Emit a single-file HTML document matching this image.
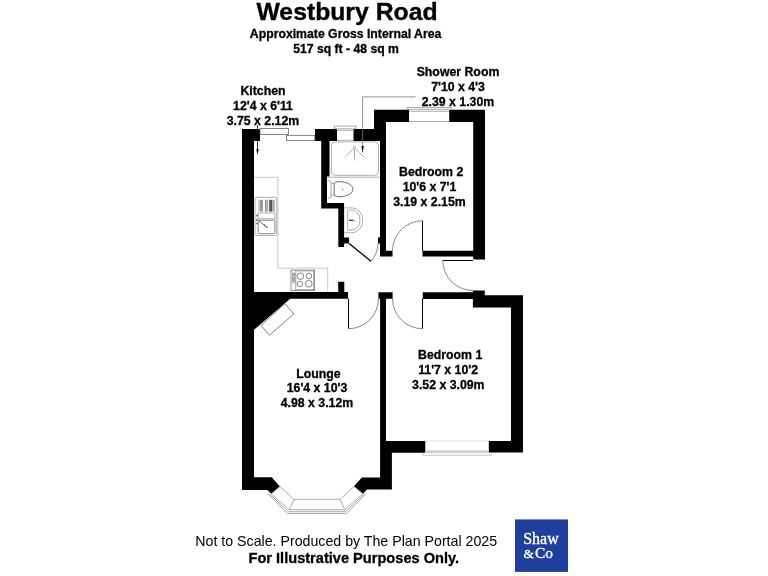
<!DOCTYPE html>
<html><head><meta charset="utf-8">
<style>
html,body{margin:0;padding:0;background:#fff;}
body{width:768px;height:576px;overflow:hidden;}
svg{display:block;will-change:transform;}
text{font-family:"Liberation Sans",sans-serif;font-weight:bold;fill:#000;}
</style></head>
<body>
<svg width="768" height="576" viewBox="0 0 768 576">
<!-- Titles -->
<text x="347" y="19.7" font-size="24.75" text-anchor="middle" stroke="#000" stroke-width="0.35">Westbury Road</text>
<text x="345.6" y="38" font-size="12.25" text-anchor="middle" stroke="#000" stroke-width="0.3">Approximate Gross Internal Area</text>
<text x="346" y="52.6" font-size="12.2" text-anchor="middle" stroke="#000" stroke-width="0.3">517 sq ft - 48 sq m</text>

<!-- Room labels -->
<g font-size="12.3" text-anchor="middle" stroke="#000" stroke-width="0.3">
<text x="263" y="94.9">Kitchen</text>
<text x="263" y="109.5">12'4 x 6'11</text>
<text x="263" y="124.5">3.75 x 2.12m</text>
<text x="458" y="75.9">Shower Room</text>
<text x="458" y="90.6">7'10 x 4'3</text>
<text x="458" y="105.6">2.39 x 1.30m</text>
<text x="431.2" y="175.8">Bedroom 2</text>
<text x="429.5" y="190.7">10'6 x 7'1</text>
<text x="429.5" y="205.5">3.19 x 2.15m</text>
<text x="318.5" y="377.6">Lounge</text>
<text x="317" y="391.9">16'4 x 10'3</text>
<text x="317" y="406.9">4.98 x 3.12m</text>
<text x="450.2" y="359.3">Bedroom 1</text>
<text x="448.1" y="373.9">11'7 x 10'2</text>
<text x="448.3" y="388.8">3.52 x 3.09m</text>
</g>

<!-- Walls -->
<g fill="#000">
<polygon points="242,129 260,129 260,141 254,141 254,292 338.2,292 338.2,281.8 344.3,281.8 344.3,292 348,292 348,298.7 290.2,298.7 254,329.75 254,477.3 271.7,477.3 279.9,486.4 271.3,493.8 267.4,489.9 242,489.9"/>
<polygon points="315,129 337,129 337,141 329.5,141 329.5,176.5 327,176.5 327,203 344.1,203 344.1,237.5 349.1,237.5 349.1,243.5 344.1,243.5 344.1,247 338.3,247 338.3,208.5 321.2,208.5 321.2,141 315,141"/>
<polygon points="353.5,129 374,129 374,109.7 409,109.7 409,121.9 386,121.9 386,250.8 392.5,250.8 392.5,256.5 380,256.5 380,243.5 378,243.5 378,237.5 380,237.5 380,141 353.5,141"/>
<polygon points="449.2,109.7 485,109.7 485,259.5 473.2,259.5 473.2,256.5 422.5,256.5 422.5,250.8 473.2,250.8 473.2,121.9 449.2,121.9"/>
<polygon points="422.8,292.3 472.9,292.3 472.9,290.5 484.8,290.5 484.8,295.2 523,295.2 523,452.6 488.8,452.6 488.8,441 511,441 511,307.4 472.9,307.4 472.9,298.9 422.8,298.9"/>
<polygon points="378.4,292.2 392.6,292.2 392.6,298.7 386,298.7 386,441 425.3,441 425.3,452.7 391.9,452.7 391.9,489.4 366.9,489.4 363.1,493.8 354,486.3 361.9,477.5 380.1,477.5 380.1,298.7 378.4,298.7"/>
</g>

<!-- thin lines -->
<g fill="none" stroke="#999" stroke-width="0.8">
<!-- kitchen window -->
<rect x="260" y="128.6" width="28.5" height="5.8" stroke="#666"/>
<rect x="286.5" y="135.3" width="28.3" height="5.3" stroke="#666"/>
<!-- shower window -->
<rect x="334.5" y="126.1" width="21.2" height="2.7"/>
<line x1="337" y1="130.3" x2="353.5" y2="130.3"/>
<line x1="337" y1="140.3" x2="353.5" y2="140.3"/>
<!-- bed2 window -->
<rect x="407.3" y="107.4" width="44" height="1.9"/>
<line x1="409" y1="111.3" x2="449.2" y2="111.3"/>
<line x1="409" y1="121.5" x2="449.2" y2="121.5"/>
<!-- bed1 window -->
<line x1="425.3" y1="440.9" x2="488.8" y2="440.9" stroke="#d8d8d8"/>
<rect x="425.3" y="450.2" width="63.5" height="3" fill="#d0d0d0" stroke="none"/>
<path d="M423.3,452.8 L423.3,455.3 L491.4,455.3 L491.4,452.8" stroke="#bbb"/>
<!-- kitchen counter -->
<polyline points="254,177.3 277.9,177.3 277.9,268.2 327.7,268.2 327.7,292" stroke="#bbb"/>
<!-- sink -->
<rect x="255" y="197.3" width="21.7" height="38.2" rx="1.2"/>
<rect x="258.1" y="213" width="16.8" height="5.8"/>
<rect x="258.1" y="220.2" width="16.8" height="13.5" rx="1.2" stroke="#666"/>
<!-- hob -->
<rect x="291" y="270.1" width="23.6" height="20.5" stroke="#777"/>
<rect x="295.8" y="270.9" width="18" height="18.9" stroke="#888"/>
<g stroke="#555" stroke-width="0.7">
<circle cx="300.4" cy="276.2" r="3.3"/>
<circle cx="308.9" cy="276" r="2.8"/>
<circle cx="299.9" cy="283.9" r="2.8"/>
<circle cx="308.7" cy="283.7" r="3.4"/>
<circle cx="293.5" cy="274" r="1.1"/>
<circle cx="293.5" cy="276.5" r="1.1"/>
<circle cx="293.5" cy="279" r="1.1"/>
<circle cx="293.5" cy="281.5" r="1.1"/>
</g>
<!-- shower tray -->
<rect x="331.3" y="141.9" width="47.2" height="33.4" rx="4"/>
<line x1="328" y1="177.2" x2="380" y2="177.2"/>
<!-- toilet -->
<path d="M328.2,180.5 L331,181.5 L331,197.2 L328.2,198.2" stroke="#888"/>
<line x1="331" y1="183.6" x2="334.5" y2="183.6"/>
<line x1="331" y1="195" x2="334.5" y2="195"/>
<path d="M334.2,184 C334.2,180.5 344,181.2 349.5,184.2 C354,187 354,191.5 349.5,194.3 C344,197.3 334.2,197.8 334.2,194.2 Z" stroke="#444"/>
<circle cx="342.5" cy="189.3" r="0.5" stroke="#777"/>
<!-- basin -->
<path d="M344.1,207.9 L352,207.9 A10.8,12.4 0 0 1 352,232.7 L344.1,232.7" />
<path d="M347.7,210.1 L352,210.1 A8,10 0 0 1 352,230.1 L347.7,230.1 Z"/>
<!-- fireplace -->
<polygon points="285,303.7 293.8,314.1 269.3,335.2 261,325.4" stroke="#666"/>
<!-- shower head -->
<circle cx="354.5" cy="147.5" r="1.3"/>
<line x1="354.5" y1="148.8" x2="354.5" y2="160.6"/>
<line x1="353.5" y1="148.5" x2="345.4" y2="156.9"/>
<line x1="355.5" y1="148.5" x2="364" y2="157"/>
</g>
<!-- drainer ribs -->
<g>
<rect x="258.2" y="199.8" width="1.6" height="11.8" fill="#ccc"/>
<rect x="259.8" y="199.8" width="3.2" height="11.8" fill="#999"/>
<rect x="265" y="199.8" width="1.4" height="11.8" fill="#888"/>
<rect x="266.4" y="199.8" width="1.8" height="11.8" fill="#aaa"/>
<rect x="269.2" y="199.8" width="3" height="11.8" fill="#555"/>
<rect x="272.2" y="199.8" width="2.6" height="11.8" fill="#aaa"/>
<circle cx="257" cy="215.4" r="0.9" fill="#666"/>
<circle cx="257" cy="220" r="0.9" fill="#666"/>
<circle cx="257" cy="223.4" r="0.9" fill="#666"/>
<line x1="258.5" y1="220.5" x2="267" y2="227.3" stroke="#444" stroke-width="0.8"/>
<circle cx="264.5" cy="225.3" r="0.7" fill="#333"/>
<circle cx="267" cy="227.3" r="0.7" fill="#333"/>
<rect x="349" y="219.6" width="4" height="1.4" fill="#444"/>
<circle cx="354" cy="220.3" r="0.6" fill="#555"/>
</g>
<!-- bay window -->
<g fill="none" stroke="#888" stroke-width="0.7">
<polygon points="279.9,486.4 293.8,499.4 289.3,509.8 271.3,493.8"/>
<polygon points="354.1,486.4 340.2,499.4 344.7,509.8 362.7,493.8"/>
<line x1="293.8" y1="499.4" x2="340.2" y2="499.4"/>
<line x1="289.3" y1="509.8" x2="344.7" y2="509.8"/>
<polyline points="269.6,494 288.3,511.7 345.7,511.7 364.4,494"/>
<polyline points="267.9,493.6 287.3,513.5 346.7,513.5 366.1,493.6"/>
</g>
<!-- doors -->
<g fill="none" stroke="#000" stroke-width="0.9">
<line x1="349.1" y1="243.5" x2="371" y2="261.3" stroke-width="1.3"/>
<path d="M371,261.3 A28.2,28.2 0 0 0 378,243.5" stroke="#555" stroke-width="0.7"/>
<line x1="422.5" y1="250.8" x2="422.5" y2="220.8" stroke-width="1"/>
<path d="M392.5,250.8 A30,30 0 0 1 422.5,220.8" stroke="#555" stroke-width="0.7"/>
<line x1="442.7" y1="260.5" x2="472.9" y2="260.5" stroke-width="1"/>
<path d="M442.7,260.5 A30.2,30.2 0 0 0 472.9,290.5" stroke="#555" stroke-width="0.7"/>
<line x1="348.5" y1="298.7" x2="348.5" y2="328.7" stroke-width="1"/>
<path d="M348.5,328.7 A30,30 0 0 0 378.5,298.7" stroke="#555" stroke-width="0.7"/>
<line x1="422.5" y1="298.7" x2="422.5" y2="328.7" stroke-width="1"/>
<path d="M392.5,298.7 A30,30 0 0 0 422.5,328.7" stroke="#555" stroke-width="0.7"/>
<!-- arrows -->
<line x1="257.5" y1="125" x2="257.5" y2="152" stroke-width="0.8"/>
<polyline points="362.6,152.5 362.6,96.9 415.6,96.9" stroke="#777" stroke-width="0.8"/>
</g>
<polygon points="256.3,149 258.7,149 257.5,155" fill="#000"/>
<polygon points="361.4,146 363.8,146 362.6,152.5" fill="#000"/>

<!-- Logo -->
<rect x="515" y="519.4" width="53" height="52.5" fill="#1f3f9e"/>
<g style="font-family:'Liberation Serif',serif;font-weight:normal;fill:#fff" stroke="#fff" stroke-width="0.35">
<text x="523.2" y="544.2" font-size="16" style="font-family:'Liberation Serif',serif;font-weight:normal;fill:#fff">Shaw</text>
<text x="523.4" y="558.2" font-size="13.2" style="font-family:'Liberation Serif',serif;font-weight:normal;fill:#fff">&amp;</text>
<text x="535" y="558.2" font-size="15.4" style="font-family:'Liberation Serif',serif;font-weight:normal;fill:#fff">Co</text>
</g>

<!-- Footer -->
<text x="195.3" y="545.8" font-size="14.2" style="font-weight:normal">Not to Scale. Produced by The Plan Portal 2025</text>
<text x="248.5" y="563.1" font-size="14.6" stroke="#000" stroke-width="0.3">For Illustrative Purposes Only.</text>
</svg>
</body></html>
